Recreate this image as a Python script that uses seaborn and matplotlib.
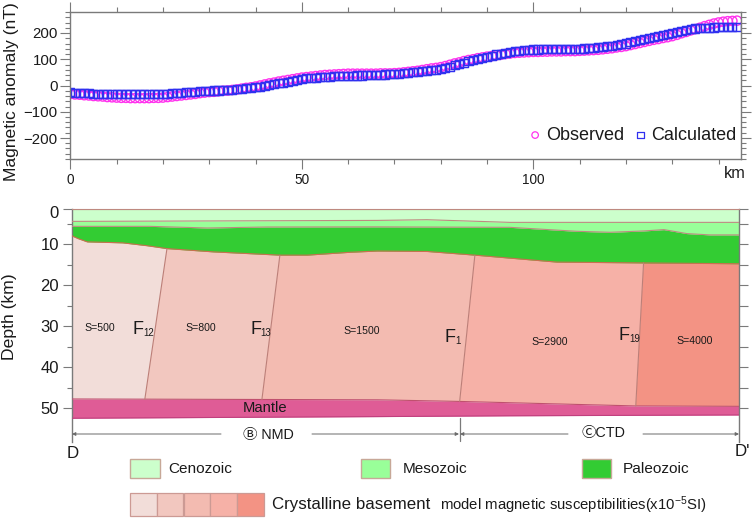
import numpy as np
import matplotlib
matplotlib.use("Agg")
import matplotlib.pyplot as plt
from matplotlib.patches import Rectangle
from matplotlib.transforms import ScaledTranslation
import seaborn as sns

sns.set_style("white")
plt.rcParams['font.family'] = ['Liberation Sans', 'DejaVu Sans']
plt.rcParams['mathtext.default'] = 'regular'

# ---------- data ----------
km = list(range(145))
observed = [-32,-34,-35,-37,-38,-40,-41,-42,-44,-45,-46,-47,-47,-48,-48,
            -48,-48,-48,-47,-47,-46,-44,-42,-40,-38,-36,-34,-32,-29,-27,
            -25,-24,-22,-20,-19,-17,-15,-12,-9,-7,-4,0,4,8,11,
            15,18,21,24,27,30,32,34,36,38,40,41,42,43,44,
            45,45,45,45,45,45,45,46,46,46,47,48,50,52,54,
            56,59,62,65,67,70,74,79,84,88,93,97,100,104,107,
            110,112,115,117,120,122,124,125,126,127,128,128,129,129,130,
            130,130,131,131,131,132,133,134,135,136,138,140,142,145,147,
            150,154,158,162,166,170,174,177,181,184,188,193,199,204,210,
            215,220,226,231,236,240,243,245,246,247]
calculated = [-26,-27,-28,-29,-30,-31,-31,-31,-32,-32,-32,-33,-33,-33,-34,
              -34,-34,-33,-33,-33,-32,-31,-30,-29,-27,-26,-25,-24,-22,-21,
              -20,-19,-19,-18,-18,-17,-15,-13,-11,-9,-7,-4,-1,2,5,
              8,11,15,18,22,25,27,28,30,32,33,34,35,36,36,
              37,37,38,38,39,39,40,41,42,43,44,45,47,48,50,
              52,54,56,58,60,63,67,72,77,82,87,92,96,101,105,
              110,114,118,121,125,128,130,132,134,136,137,137,138,138,139,
              139,139,139,140,140,140,141,143,144,146,147,149,152,154,157,
              160,164,169,173,178,182,186,189,193,197,200,204,207,210,214,
              217,218,219,220,221,222,222,222,222,222]

top_km = [0, 144.7]
top_depth = [1.41, 1.41]
ceno_km = [0, 66.2, 77, 95, 144.7]
ceno_base = [4.36, 4.12, 3.95, 4.6, 4.6]
meso_km = [0, 16.9, 29.3, 42.3, 66.2, 95, 109.5, 116.7, 124, 128.4, 133.4, 138.4, 144.7]
meso_base = [5.57, 5.57, 5.97, 5.73, 5.7, 5.81, 6.78, 7.02, 6.7, 6.37, 7.34, 7.66, 7.66]
paleo_km = [0, 1.3, 3.3, 11, 16.3, 20.6, 30.6, 45.1, 51, 60.3, 66.2, 77, 87.4, 105.2, 124, 144.7]
paleo_base = [7.9, 8.55, 9.36, 9.6, 10.3, 11, 11.8, 12.6, 12.6, 11.9, 11.6, 11.7, 12.6, 14.3, 14.5, 14.7]
mantle_top_km = [0, 66.2, 84.1, 122.3, 144.7]
mantle_top = [47.7, 47.9, 48.3, 49.4, 49.5]
mantle_base_km = [0, 66.2, 95, 144.7]
mantle_base = [52.4, 52.0, 51.8, 51.6]

fault_numbers = ['12', '13', '1', '19']
fault_top_km = [20.6, 45.1, 87.4, 124.0]
fault_bottom_km = [15.8, 41.2, 84.1, 122.3]
susceptibility = ['S=500', 'S=800', 'S=1500', 'S=2900', 'S=4000']
basement_colors = ['#F2DDD9', '#F2C7BF', '#F3BBB1', '#F6B1A7', '#F39384']

frame = '#7A7A7A'
edge = '#BE8A80'
txt = '#1A1A1A'

fig = plt.figure(figsize=(7.54, 5.18), dpi=100)
W, H = 754.0, 518.0


def axes_px(x0, x1, y0, y1):
    return fig.add_axes([x0 / W, 1 - y1 / H, (x1 - x0) / W, (y1 - y0) / H])


# ---------- anomaly panel ----------
ax = axes_px(70.3, 741.2, 12, 159)
sns.scatterplot(x=km, y=observed, ax=ax, marker='o', s=44, facecolors='none',
                edgecolor='#FF33EE', linewidth=1.0, label='Observed')
sns.scatterplot(x=km, y=calculated, ax=ax, marker='s', s=34, facecolors='none',
                edgecolor='#3030F0', linewidth=1.05, label='Calculated')
ax.set_xlim(0, 144.9)
ax.set_ylim(-280, 280)
ax.set_xticks([0, 50, 100])
ax.set_xticks(np.arange(0, 145, 10), minor=True)
ax.set_yticks([-200, -100, 0, 100, 200])
ax.set_yticks(np.arange(-280, 281, 20), minor=True)
ax.tick_params(axis='both', which='major', length=7, width=0.8, color=frame,
               top=True, right=True, bottom=True, left=True, direction='out',
               labelcolor=txt)
ax.tick_params(axis='both', which='minor', length=3.6, width=0.8, color=frame,
               top=True, right=True, bottom=True, left=True, direction='out')
ax.tick_params(axis='x', labelsize=9.8, pad=3)
ax.tick_params(axis='y', labelsize=10.8, pad=2)
for s in ax.spines.values():
    s.set_color(frame)
    s.set_linewidth(1.0)
ax.set_ylabel('Magnetic anomaly (nT)', fontsize=12.6, color=txt)
ax.yaxis.set_label_coords(-0.0765, 0.456)
leg = ax.legend(loc='lower right', bbox_to_anchor=(1.007, 0.042), ncol=2, frameon=False,
                fontsize=13, handlelength=0.75, handletextpad=0.25, columnspacing=0.5,
                borderpad=0.2, borderaxespad=0.3, labelcolor=txt)
for h in leg.legend_handles:
    h.set_sizes([22])
    h.set_linewidth(0.9)

# ---------- section panel ----------
sx = axes_px(72, 739, 209.3, 442)
sx.set_xlim(0, 144.7)
sx.set_ylim(58.2, 1.41)
grid_km = np.array(sorted(set(paleo_km + mantle_top_km + mantle_base_km + meso_km + ceno_km)))


def on(xs, xp, fp):
    return np.interp(xs, xp, fp)


for i, c in enumerate(basement_colors):
    xl_top = 0 if i == 0 else fault_top_km[i - 1]
    xl_bot = 0 if i == 0 else fault_bottom_km[i - 1]
    xr_top = 144.7 if i == 4 else fault_top_km[i]
    xr_bot = 144.7 if i == 4 else fault_bottom_km[i]
    upper = np.array([xl_top] + [k for k in paleo_km if xl_top < k < xr_top] + [xr_top])
    lower = np.array([xr_bot] + [k for k in mantle_top_km if xl_bot < k < xr_bot][::-1] + [xl_bot])
    px = np.r_[upper, lower]
    py = np.r_[on(upper, paleo_km, paleo_base), on(lower, mantle_top_km, mantle_top)]
    sx.fill(px, py, facecolor=c, edgecolor='none', zorder=1)

sx.fill_between(grid_km, on(grid_km, top_km, top_depth), on(grid_km, ceno_km, ceno_base),
                color='#CCFFCC', lw=0, zorder=2)
sx.fill_between(grid_km, on(grid_km, ceno_km, ceno_base), on(grid_km, meso_km, meso_base),
                color='#99FF99', lw=0, zorder=2)
sx.fill_between(grid_km, on(grid_km, meso_km, meso_base), on(grid_km, paleo_km, paleo_base),
                color='#33CC33', lw=0, zorder=2)
sx.fill_between(grid_km, on(grid_km, mantle_top_km, mantle_top), on(grid_km, mantle_base_km, mantle_base),
                color='#DF5C96', lw=0, zorder=2)

for xs, ys, col in [(top_km, top_depth, edge), (ceno_km, ceno_base, edge),
                    (meso_km, meso_base, edge), (paleo_km, paleo_base, '#C9704F'),
                    (mantle_top_km, mantle_top, '#C0506E'),
                    (mantle_base_km, mantle_base, '#C0407E')]:
    sns.lineplot(x=xs, y=ys, ax=sx, color=col, lw=0.8, zorder=3, estimator=None, sort=False)
for a, b in zip(fault_top_km, fault_bottom_km):
    ya = on(a, paleo_km, paleo_base)
    yb = on(b, mantle_top_km, mantle_top)
    sx.plot([a, b], [ya, yb], color='#BC7F78', lw=0.8, zorder=3)

major = [1.41, 10, 20, 30, 40, 50]
sx.set_yticks(major)
sx.set_yticklabels(['0', '10', '20', '30', '40', '50'])
sx.set_yticks([5, 15, 25, 35, 45], minor=True)
sx.set_xticks([])
sx.tick_params(axis='y', which='major', length=6.5, width=0.8, color=frame, left=True,
               right=True, labelsize=12, pad=3, labelcolor=txt)
sx.tick_params(axis='y', which='minor', length=3.6, width=0.8, color=frame, left=True)
sx.tick_params(axis='y', which='minor', right=True)
for t in sx.yaxis.get_minorticklines()[1::2]:
    t.set_markersize(6.5)
zero = sx.get_yticklabels()[0]
zero.set_transform(zero.get_transform() + ScaledTranslation(0, -3 / 100, fig.dpi_scale_trans))
sx.spines['bottom'].set_visible(False)
sx.spines['top'].set_color(edge)
sx.spines['top'].set_linewidth(0.8)
for n in ['left', 'right']:
    sx.spines[n].set_color(frame)
    sx.spines[n].set_linewidth(1.0)
sx.set_ylabel('Depth (km)', fontsize=12.6, color=txt)
sx.yaxis.set_label_coords(-0.082, 0.537)
sx.set_xlabel('')

# ---------- annotation layer in picture pixels ----------
ov = fig.add_axes([0, 0, 1, 1], facecolor='none')
ov.set_xlim(0, W)
ov.set_ylim(H, 0)
ov.axis('off')


def T(x, y, s, size, ha='center', **kw):
    ov.text(x, y, s, fontsize=size, ha=ha, va='center', color=txt, **kw)


T(735, 174, 'km', 11.8)
for s, x, y in zip(susceptibility, [100, 201, 362, 550, 695], [328, 328, 331, 342, 341]):
    T(x, y, s, 7.6)
for n, x, xn, y in zip(fault_numbers, [132, 250, 444, 618], [143, 260, 455, 629], [330, 330, 338, 336]):
    T(x, y, 'F', 13, ha='left')
    T(xn, y + 3, n, 7, ha='left')
T(265, 407.5, 'Mantle', 10.6)
T(72.5, 454, 'D', 12.2)
T(742, 451, "D'", 12.2)

for x0, x1 in [(221, 72), (312, 459), (568, 460), (643, 739)]:
    ov.annotate('', xy=(x1, 434), xytext=(x0, 434),
                arrowprops=dict(arrowstyle='-|>', color='#6A6A6A', lw=0.7,
                                mutation_scale=5, shrinkA=0, shrinkB=0))
ov.plot([459.7, 459.7], [418, 441], color=frame, lw=0.9)
circled = ['Liberation Sans', 'Noto Sans CJK SC', 'DejaVu Sans']
T(268, 434.5, 'Ⓑ NMD', 10.4, family=circled)
T(604, 433.5, 'ⒸCTD', 10.4, family=circled)

# legend swatches
for x0, c, name, tx in [(130, '#CCFFCC', 'Cenozoic', 168),
                        (360.5, '#99FF99', 'Mesozoic', 403),
                        (581.7, '#33CC33', 'Paleozoic', 623)]:
    ov.add_patch(Rectangle((x0, 458.7), 29.5, 19.3, facecolor=c, edgecolor='#C7A898', lw=1.0))
    T(tx, 469, name, 11.1, ha='left')
for x0, c in zip([129.7, 156.5, 183.5, 210, 236.5], basement_colors):
    ov.add_patch(Rectangle((x0, 493), 26.8 if x0 < 236 else 27.3, 23, facecolor=c,
                           edgecolor='#CC9A94', lw=0.9))
T(272, 505, 'Crystalline basement', 12.2, ha='left')
T(440, 505, 'model magnetic susceptibilities(x10$^{-5}$SI)', 10.7, ha='left')

fig.savefig('out.png', dpi=100)
